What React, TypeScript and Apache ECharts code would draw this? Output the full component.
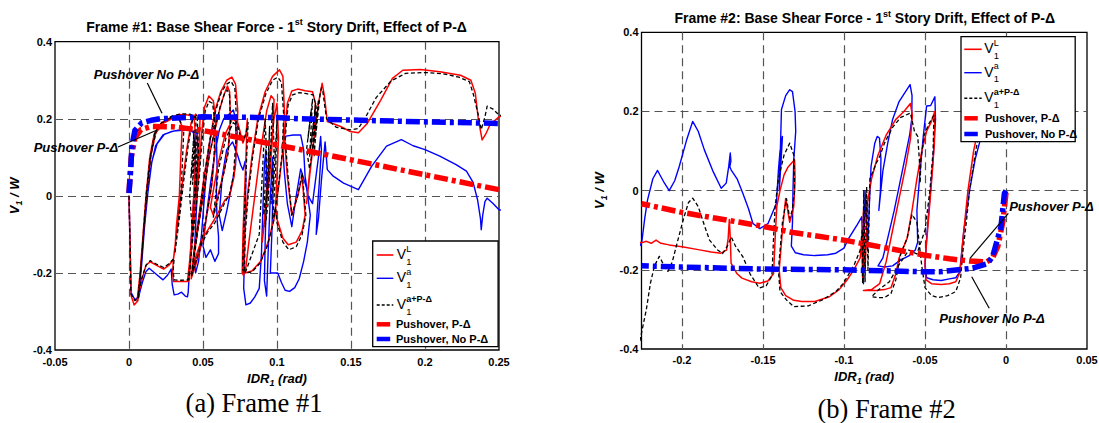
import React, { useEffect, useRef } from 'react';
import * as echarts from 'echarts';

const FONT = '"Liberation Sans", Arial, Helvetica, sans-serif';
const SERIF = '"Liberation Serif", "Times New Roman", serif';
const RED = '#ff0000';
const BLUE = '#0000ff';
const BLACK = '#000000';

// ---------- axes / ticks ----------
const F1_X_RANGE = [-0.05, 0.25];
const F1_X_INTERVAL = 0.05;
const F2_X_RANGE = [-0.225, 0.05];
const F2_X_TICKS = [-0.2, -0.15, -0.1, -0.05, 0, 0.05];
const Y_RANGE = [-0.4, 0.4];
const Y_INTERVAL = 0.2;

// ---------- texts ----------
const TITLES = [
  ['Frame #1: Base Shear Force - 1', 'st', ' Story Drift, Effect of P-Δ'],
  ['Frame #2: Base Shear Force - 1', 'st', ' Story Drift, Effect of P-Δ'],
];
const CAPTIONS = ['(a) Frame #1', '(b) Frame #2'];
const LEGEND_SUP = ['L', 'a', 'a+P-Δ'];
const PUSH_LABELS = ['Pushover, P-Δ', 'Pushover, No P-Δ'];
const NOTE_NO_PD = 'Pushover No P-Δ';
const NOTE_PD = 'Pushover P-Δ';

// ---------- Frame #1 data (IDR1, V1/W) ----------
const F1_VL = [
  [0, 0], [0.0008, -0.14], [0.0015, -0.26], [0.0035, -0.283], [0.006, -0.272],
  [0.0075, -0.2], [0.0095, -0.1], [0.0115, 0.0], [0.014, 0.1], [0.017, 0.16], [0.022, 0.19], [0.028, 0.203], [0.034, 0.211], [0.04, 0.21], [0.044, 0.205],
  [0.045, 0.15], [0.0445, 0.05], [0.043, -0.05], [0.0415, -0.15], [0.0395, -0.222], [0.035, -0.222], [0.03, -0.222], [0.0295, -0.2], [0.03, -0.165],
  [0.027, -0.18], [0.0234, -0.19], [0.019, -0.181], [0.0143, -0.171], [0.0115, -0.18], [0.0085, -0.22], [0.0055, -0.272],
  [0.0078, -0.19], [0.0098, -0.09], [0.012, 0.01], [0.0145, 0.1], [0.018, 0.162], [0.023, 0.188], [0.029, 0.2],
  [0.033, 0.205], [0.036, 0.18], [0.035, 0.1], [0.034, 0.0], [0.032, -0.08], [0.031, -0.14], [0.03, -0.165], [0.033, -0.07], [0.036, 0.03], [0.039, 0.12], [0.042, 0.19], [0.045, 0.212], [0.048, 0.2], [0.047, 0.1], [0.045, 0.0], [0.043, -0.1], [0.041, -0.2], [0.04, -0.222],
  [0.0415, -0.16], [0.044, -0.06], [0.047, 0.05], [0.049, 0.16], [0.051, 0.23], [0.054, 0.259], [0.057, 0.247], [0.0585, 0.2], [0.058, 0.12], [0.056, 0.03], [0.053, -0.04], [0.0505, -0.1], [0.048, -0.14], [0.045, -0.18], [0.042, -0.215],
  [0.044, -0.14], [0.047, -0.06], [0.05, 0.03], [0.054, 0.13], [0.058, 0.22], [0.062, 0.27], [0.066, 0.3], [0.0695, 0.308], [0.072, 0.29], [0.0735, 0.22], [0.073, 0.14], [0.071, 0.05], [0.068, 0.0], [0.065, -0.01], [0.0576, -0.062], [0.053, -0.09], [0.049, -0.114], [0.045, -0.16], [0.042, -0.21],
  [0.046, -0.1], [0.05, 0.0], [0.054, 0.1], [0.058, 0.17], [0.061, 0.22], [0.064, 0.26], [0.0665, 0.285], [0.068, 0.27], [0.0685, 0.2], [0.067, 0.12], [0.064, 0.06], [0.06, 0.0], [0.057, -0.05], [0.055, -0.03],
  [0.06, 0.08], [0.065, 0.16], [0.07, 0.2], [0.0735, 0.19], [0.0755, 0.16], [0.077, 0.137], [0.079, 0.16], [0.08, 0.2], [0.079, 0.1], [0.078, 0.0], [0.077, -0.1], [0.0765, -0.2], [0.0775, -0.207],
  [0.078, -0.1], [0.08, 0.0], [0.083, 0.1], [0.087, 0.2], [0.092, 0.27], [0.097, 0.31], [0.1017, 0.327], [0.104, 0.31], [0.105, 0.22], [0.104, 0.12], [0.101, 0.02], [0.098, -0.06], [0.094, -0.12], [0.089, -0.17], [0.083, -0.195], [0.0785, -0.2],
  [0.081, -0.12], [0.085, 0.0], [0.089, 0.12], [0.093, 0.22], [0.096, 0.26], [0.098, 0.25], [0.097, 0.15], [0.095, 0.05], [0.092, -0.05], [0.09, -0.12], [0.092, -0.04], [0.095, 0.1], [0.098, 0.2], [0.1, 0.24], [0.101, 0.15], [0.1, 0.05], [0.099, -0.03],
  [0.1, -0.06], [0.104, -0.11], [0.1076, -0.127], [0.113, -0.12], [0.117, -0.09], [0.119, -0.05], [0.117, 0.05], [0.114, 0.0], [0.11, -0.05], [0.107, 0.05], [0.105, 0.15], [0.107, 0.24], [0.11, 0.272], [0.114, 0.277], [0.119, 0.273], [0.124, 0.27], [0.126, 0.24], [0.125, 0.15], [0.122, 0.06], [0.12, -0.02], [0.122, 0.05], [0.125, 0.15], [0.128, 0.24], [0.1305, 0.292], [0.132, 0.26], [0.134, 0.193],
  [0.143, 0.18], [0.1495, 0.167], [0.155, 0.164], [0.161, 0.188], [0.17, 0.248], [0.178, 0.305], [0.185, 0.326], [0.197, 0.328], [0.21, 0.322], [0.224, 0.313], [0.231, 0.3], [0.234, 0.266], [0.236, 0.2], [0.2386, 0.145], [0.241, 0.16], [0.244, 0.185], [0.25, 0.205], [0.255, 0.21],
];

const F1_VA = [
  [0, 0], [0.0008, -0.14], [0.0013, -0.25], [0.004, -0.27], [0.0065, -0.262],
  [0.008, -0.19], [0.0102, -0.09], [0.0125, 0.0], [0.015, 0.08], [0.018, 0.13], [0.023, 0.158], [0.029, 0.167], [0.035, 0.172], [0.04, 0.172], [0.0435, 0.165],
  [0.045, 0.12], [0.0445, 0.04], [0.043, -0.05], [0.0415, -0.15], [0.04, -0.25], [0.0395, -0.262], [0.038, -0.26], [0.0355, -0.25], [0.033, -0.255], [0.0305, -0.257], [0.0292, -0.23], [0.0285, -0.19], [0.026, -0.206], [0.023, -0.218], [0.018, -0.202], [0.0136, -0.188], [0.0115, -0.196], [0.009, -0.225], [0.0065, -0.262],
  [0.0085, -0.18], [0.0105, -0.08], [0.0128, 0.01], [0.0155, 0.09], [0.019, 0.135], [0.024, 0.16], [0.03, 0.168], [0.036, 0.17], [0.042, 0.17], [0.046, 0.16],
  [0.047, 0.08], [0.046, 0.0], [0.045, -0.08], [0.044, -0.16], [0.045, -0.2], [0.047, -0.17], [0.049, -0.1], [0.051, 0.0], [0.053, 0.09], [0.055, 0.15], [0.057, 0.18], [0.059, 0.16], [0.0595, 0.08], [0.059, 0.0], [0.0595, -0.06], [0.0605, -0.105], [0.0605, -0.15], [0.058, -0.17], [0.055, -0.14], [0.052, -0.16], [0.05, -0.13], [0.052, -0.06], [0.055, 0.03], [0.058, 0.11], [0.061, 0.17], [0.064, 0.2], [0.0675, 0.212], [0.0705, 0.223], [0.072, 0.2], [0.0725, 0.14], [0.072, 0.08], [0.069, 0.02], [0.066, -0.04], [0.063, -0.09], [0.061, -0.05], [0.063, 0.05], [0.066, 0.12], [0.07, 0.14], [0.073, 0.11], [0.0755, 0.08], [0.077, 0.067], [0.0785, 0.09], [0.079, 0.05], [0.0785, -0.05], [0.078, -0.15], [0.0775, -0.24], [0.079, -0.283], [0.082, -0.278], [0.085, -0.262], [0.088, -0.24],
  [0.0895, -0.15], [0.0905, -0.03], [0.0915, 0.08], [0.0925, 0.12], [0.093, 0.02], [0.092, -0.12], [0.0915, -0.22], [0.093, -0.26], [0.094, -0.15], [0.0955, 0.0], [0.097, 0.1], [0.0975, 0.04], [0.0965, -0.1], [0.0955, -0.2], [0.098, -0.2], [0.1005, -0.2], [0.103, -0.225], [0.1055, -0.245], [0.1085, -0.248], [0.112, -0.238], [0.115, -0.215], [0.118, -0.17], [0.1205, -0.12], [0.1225, -0.05],
  [0.12, 0.02], [0.116, 0.07], [0.113, 0.0], [0.11, -0.08], [0.107, -0.02], [0.105, 0.06], [0.104, 0.12], [0.106, 0.155], [0.111, 0.158], [0.116, 0.158], [0.118, 0.12], [0.119, 0.05], [0.121, 0.0], [0.124, -0.02], [0.126, 0.04], [0.128, 0.1], [0.1295, 0.154], [0.13, 0.12], [0.1285, 0.03], [0.127, -0.05], [0.1265, -0.1],
  [0.128, -0.06], [0.13, 0.04], [0.1315, 0.1], [0.1325, 0.14], [0.134, 0.068],
  [0.138, 0.051], [0.145, 0.033], [0.155, 0.016], [0.164, 0.077], [0.174, 0.129], [0.184, 0.146], [0.192, 0.13], [0.2, 0.12], [0.21, 0.103], [0.221, 0.081], [0.228, 0.064], [0.2325, 0.035], [0.2355, -0.01], [0.2375, -0.06], [0.238, -0.088], [0.239, -0.05], [0.2405, -0.015], [0.242, -0.006], [0.246, -0.02], [0.25, -0.036], [0.255, -0.04],
];

const F1_VAPD = [
  [0, 0], [0.0008, -0.14], [0.0013, -0.255], [0.004, -0.272], [0.0065, -0.265],
  [0.008, -0.19], [0.0098, -0.09], [0.0118, 0.01], [0.0143, 0.1], [0.0175, 0.165], [0.023, 0.195], [0.029, 0.207], [0.035, 0.213], [0.041, 0.212], [0.045, 0.205],
  [0.0455, 0.15], [0.045, 0.05], [0.0435, -0.05], [0.042, -0.15], [0.0405, -0.218], [0.035, -0.219], [0.0305, -0.218], [0.0298, -0.195], [0.0305, -0.162],
  [0.027, -0.176], [0.0234, -0.186], [0.019, -0.178], [0.0143, -0.168], [0.0115, -0.18], [0.0085, -0.215], [0.006, -0.265],
  [0.0082, -0.18], [0.0102, -0.08], [0.0125, 0.02], [0.015, 0.11], [0.0185, 0.17], [0.024, 0.195], [0.03, 0.205],
  [0.034, 0.2], [0.037, 0.17], [0.036, 0.08], [0.035, 0.0], [0.033, -0.08], [0.031, -0.15], [0.034, -0.06], [0.037, 0.04], [0.04, 0.13], [0.043, 0.2], [0.046, 0.21], [0.047, 0.12], [0.045, 0.0], [0.046, 0.1], [0.044, 0.15], [0.043, 0.03], [0.045, 0.14], [0.042, 0.05], [0.044, 0.17], [0.041, 0.0], [0.043, -0.1], [0.041, -0.2], [0.04, -0.218],
  [0.0418, -0.16], [0.0445, -0.06], [0.0475, 0.05], [0.0495, 0.15], [0.0515, 0.22], [0.054, 0.245], [0.0565, 0.24], [0.058, 0.19], [0.0575, 0.1], [0.0555, 0.02], [0.0525, -0.05], [0.05, -0.1], [0.0475, -0.14], [0.0445, -0.18], [0.042, -0.21],
  [0.0445, -0.13], [0.0475, -0.05], [0.0505, 0.04], [0.0545, 0.14], [0.0585, 0.22], [0.0625, 0.27], [0.066, 0.29], [0.069, 0.297], [0.0715, 0.28], [0.0725, 0.21], [0.0722, 0.14], [0.0705, 0.05], [0.068, 0.005], [0.0645, -0.02], [0.058, -0.07], [0.053, -0.095], [0.049, -0.125], [0.045, -0.17], [0.0425, -0.205],
  [0.0465, -0.09], [0.0505, 0.01], [0.0545, 0.11], [0.0585, 0.18], [0.0615, 0.23], [0.0645, 0.265], [0.0665, 0.275], [0.068, 0.26], [0.0685, 0.19], [0.067, 0.11], [0.0635, 0.05], [0.06, -0.01], [0.057, -0.055],
  [0.0605, 0.07], [0.0655, 0.15], [0.0705, 0.19], [0.0735, 0.18], [0.0755, 0.15], [0.0772, 0.142], [0.0792, 0.165], [0.0805, 0.19], [0.0795, 0.1], [0.0785, 0.0], [0.0775, -0.1], [0.0768, -0.19], [0.078, -0.2],
  [0.0785, -0.1], [0.0805, 0.0], [0.0835, 0.1], [0.0875, 0.2], [0.0925, 0.265], [0.097, 0.3], [0.1005, 0.308], [0.103, 0.295], [0.1045, 0.21], [0.1035, 0.11], [0.1005, 0.01], [0.0975, -0.07], [0.0935, -0.13], [0.0885, -0.175], [0.083, -0.198], [0.0785, -0.2],
  [0.088, -0.1], [0.09, 0.05], [0.092, 0.2], [0.093, 0.1], [0.091, -0.05], [0.093, 0.0], [0.095, 0.18], [0.094, 0.05], [0.092, -0.08], [0.094, -0.02], [0.096, 0.15], [0.097, 0.24], [0.098, 0.12], [0.096, -0.02], [0.098, 0.05], [0.1, 0.2], [0.099, 0.05], [0.097, -0.06], [0.099, -0.03],
  [0.1, -0.07], [0.104, -0.12], [0.108, -0.14], [0.113, -0.132], [0.117, -0.1], [0.1195, -0.05], [0.117, 0.06], [0.114, 0.0], [0.11, -0.05], [0.1075, 0.05], [0.1055, 0.15], [0.1075, 0.235], [0.1105, 0.262], [0.115, 0.268], [0.12, 0.265], [0.1245, 0.262], [0.1265, 0.23],
  [0.125, 0.14], [0.122, 0.07], [0.12, 0.12], [0.123, 0.22], [0.121, 0.15], [0.124, 0.25], [0.122, 0.1], [0.125, 0.2], [0.123, 0.13], [0.126, 0.24], [0.124, 0.12], [0.127, 0.22], [0.125, 0.1], [0.128, 0.25], [0.126, 0.15], [0.129, 0.26], [0.13, 0.28], [0.131, 0.27], [0.132, 0.24], [0.1335, 0.2],
  [0.14, 0.178], [0.15, 0.171], [0.155, 0.175], [0.16, 0.205], [0.167, 0.255], [0.177, 0.298], [0.187, 0.318], [0.2, 0.32], [0.212, 0.317], [0.223, 0.308], [0.23, 0.296], [0.2325, 0.266], [0.236, 0.21], [0.238, 0.172], [0.2405, 0.205], [0.242, 0.233], [0.246, 0.225], [0.25, 0.21], [0.255, 0.205],
];

const F1_PUSH_PD = [
  [0, 0.008], [0.0015, 0.1], [0.004, 0.15], [0.008, 0.172], [0.015, 0.18], [0.03, 0.179], [0.048, 0.171], [0.1225, 0.115], [0.2336, 0.0285], [0.25, 0.016],
];
const F1_PUSH_NOPD = [
  [0, 0.007], [0.001, 0.06], [0.002, 0.13], [0.004, 0.17], [0.0085, 0.189], [0.015, 0.196], [0.021, 0.2], [0.05, 0.205], [0.1, 0.203], [0.116, 0.2], [0.2, 0.192], [0.25, 0.188],
];

// ---------- Frame #2 data ----------
const F2_VL = [
  [-0.226, -0.13], [-0.225, -0.132], [-0.222, -0.128], [-0.219, -0.133], [-0.216, -0.125], [-0.213, -0.133], [-0.208, -0.137], [-0.2, -0.142], [-0.19, -0.149], [-0.182, -0.155], [-0.176, -0.158], [-0.1725, -0.15], [-0.1715, -0.12], [-0.1708, -0.073], [-0.1702, -0.12], [-0.1697, -0.183], [-0.166, -0.21], [-0.163, -0.221], [-0.157, -0.23], [-0.152, -0.234], [-0.147, -0.228], [-0.1435, -0.21],
  [-0.1425, -0.12], [-0.1415, -0.04], [-0.1395, 0.0], [-0.137, 0.04], [-0.1345, 0.06], [-0.1305, 0.078], [-0.1302, 0.03], [-0.131, -0.04], [-0.1335, -0.08], [-0.136, -0.02], [-0.138, -0.1], [-0.14, -0.2], [-0.139, -0.245], [-0.136, -0.265], [-0.131, -0.277], [-0.126, -0.28], [-0.118, -0.28], [-0.109, -0.268], [-0.103, -0.25], [-0.098, -0.225], [-0.094, -0.2], [-0.09, -0.17], [-0.089, -0.12],
  [-0.0885, -0.22], [-0.088, -0.05], [-0.087, -0.2], [-0.0855, -0.03], [-0.083, 0.03], [-0.079, 0.09], [-0.074, 0.14], [-0.068, 0.18], [-0.063, 0.2], [-0.059, 0.22], [-0.0578, 0.19], [-0.059, 0.13], [-0.062, 0.06], [-0.066, -0.02], [-0.07, -0.1], [-0.074, -0.18], [-0.078, -0.235], [-0.083, -0.25], [-0.088, -0.252], [-0.08, -0.252], [-0.075, -0.25], [-0.071, -0.245], [-0.068, -0.21], [-0.066, -0.17], [-0.064, -0.15], [-0.061, -0.12], [-0.058, -0.05], [-0.055, 0.03], [-0.052, 0.1], [-0.049, 0.15], [-0.046, 0.175], [-0.044, 0.2], [-0.0442, 0.12], [-0.046, 0.02], [-0.048, -0.08], [-0.05, -0.18], [-0.0495, -0.225], [-0.046, -0.235], [-0.04, -0.237], [-0.035, -0.235], [-0.031, -0.23], [-0.0283, -0.205], [-0.0265, -0.12], [-0.0235, 0.0], [-0.02, 0.1], [-0.017, 0.16], [-0.014, 0.22],
];

const F2_VA = [
  [-0.226, -0.14], [-0.2248, -0.129], [-0.223, -0.07], [-0.2213, -0.024], [-0.218, 0.03], [-0.2151, 0.051], [-0.211, 0.02], [-0.2079, 0.0], [-0.2045, 0.025], [-0.2017, 0.061], [-0.197, 0.13], [-0.1934, 0.175], [-0.19, 0.15], [-0.1862, 0.103], [-0.181, 0.05], [-0.1758, 0.006], [-0.1727, 0.019], [-0.1712, 0.06], [-0.1702, 0.095], [-0.1698, 0.075], [-0.1705, 0.06], [-0.1696, 0.052], [-0.166, 0.03], [-0.1624, -0.007], [-0.159, -0.045], [-0.1562, -0.083], [-0.152, -0.096], [-0.1469, -0.083], [-0.1417, -0.032],
  [-0.1405, 0.05], [-0.1395, 0.1], [-0.138, 0.137], [-0.1385, 0.1], [-0.1395, 0.03], [-0.14, 0.0], [-0.1393, 0.1], [-0.1386, 0.205], [-0.136, 0.24], [-0.1335, 0.255], [-0.1318, 0.25], [-0.1302, 0.2], [-0.1298, 0.15], [-0.131, 0.078], [-0.1315, 0.0], [-0.1318, -0.08], [-0.1325, -0.14], [-0.13, -0.157], [-0.125, -0.162], [-0.118, -0.164], [-0.11, -0.162], [-0.105, -0.158], [-0.1, -0.145], [-0.097, -0.12], [-0.092, -0.087], [-0.089, -0.066],
  [-0.0885, -0.15], [-0.088, -0.235], [-0.0875, -0.1], [-0.087, 0.0], [-0.0855, -0.15], [-0.0845, -0.05], [-0.0833, 0.061], [-0.081, 0.12], [-0.0795, 0.137], [-0.0781, 0.133], [-0.0772, 0.08], [-0.0775, 0.0], [-0.0785, -0.05], [-0.076, 0.05], [-0.073, 0.12], [-0.07, 0.18], [-0.066, 0.225], [-0.062, 0.25], [-0.0592, 0.268], [-0.058, 0.24], [-0.0582, 0.18], [-0.0595, 0.14], [-0.062, 0.09], [-0.065, 0.03], [-0.069, -0.05], [-0.073, -0.12], [-0.076, -0.17], [-0.079, -0.19], [-0.075, -0.193], [-0.07, -0.19], [-0.065, -0.175], [-0.06, -0.165], [-0.056, -0.15], [-0.0545, -0.13],
  [-0.055, -0.05], [-0.053, 0.05], [-0.051, 0.14], [-0.049, 0.214], [-0.0465, 0.215], [-0.0439, 0.237], [-0.0435, 0.18], [-0.045, 0.08], [-0.047, -0.02], [-0.049, -0.12], [-0.05, -0.19], [-0.049, -0.22], [-0.045, -0.225], [-0.04, -0.227], [-0.035, -0.223], [-0.031, -0.22], [-0.0286, -0.206], [-0.026, -0.1], [-0.0225, 0.0], [-0.019, 0.08], [-0.0164, 0.12], [-0.013, 0.2], [-0.011, 0.25],
];

const F2_VAPD = [
  [-0.226, -0.38], [-0.225, -0.36], [-0.222, -0.3], [-0.2195, -0.234], [-0.217, -0.19], [-0.214, -0.166], [-0.211, -0.19], [-0.2087, -0.204], [-0.206, -0.18], [-0.203, -0.132], [-0.199, -0.07], [-0.196, -0.03], [-0.1934, -0.019], [-0.19, -0.04], [-0.186, -0.09], [-0.183, -0.125], [-0.178, -0.15], [-0.175, -0.159], [-0.172, -0.14], [-0.1696, -0.117], [-0.167, -0.14], [-0.1624, -0.167], [-0.158, -0.21], [-0.1524, -0.246], [-0.148, -0.24], [-0.1445, -0.215],
  [-0.1435, -0.12], [-0.1425, -0.04], [-0.1405, 0.03], [-0.137, 0.09], [-0.1335, 0.12], [-0.131, 0.09], [-0.1305, 0.0], [-0.132, -0.05], [-0.1335, -0.07], [-0.1355, -0.02], [-0.138, -0.08], [-0.1405, -0.2], [-0.1395, -0.255], [-0.1355, -0.276], [-0.131, -0.293], [-0.122, -0.291], [-0.1134, -0.276], [-0.105, -0.255], [-0.1004, -0.234], [-0.094, -0.19], [-0.09, -0.15], [-0.0888, -0.1],
  [-0.0885, -0.235], [-0.0878, 0.0], [-0.087, -0.23], [-0.086, 0.01], [-0.0852, -0.2], [-0.084, 0.03], [-0.08, 0.07], [-0.078, 0.086], [-0.075, 0.12], [-0.07, 0.16], [-0.065, 0.185], [-0.059, 0.196], [-0.0565, 0.15], [-0.0545, 0.137], [-0.0535, 0.08], [-0.053, 0.019], [-0.0525, 0.08], [-0.0505, 0.14], [-0.0475, 0.17], [-0.0445, 0.19], [-0.045, 0.1], [-0.047, 0.0], [-0.05, -0.1], [-0.055, -0.16], [-0.06, -0.15], [-0.066, -0.187], [-0.072, -0.23], [-0.0788, -0.251], [-0.083, -0.268], [-0.079, -0.27], [-0.075, -0.27], [-0.071, -0.26], [-0.068, -0.225], [-0.065, -0.16], [-0.061, -0.12], [-0.058, -0.06], [-0.055, -0.08], [-0.052, -0.19], [-0.05, -0.245], [-0.046, -0.265], [-0.042, -0.27], [-0.036, -0.265], [-0.031, -0.255], [-0.028, -0.22], [-0.0265, -0.15], [-0.0245, -0.08], [-0.0225, 0.0], [-0.0195, 0.08], [-0.0165, 0.15], [-0.0135, 0.22],
];

const F2_PUSH_PD = [
  [0, -0.005], [-0.002, -0.08], [-0.005, -0.14], [-0.0085, -0.172], [-0.012, -0.18], [-0.0224, -0.178], [-0.035, -0.172], [-0.05, -0.163], [-0.1, -0.125], [-0.1327, -0.105], [-0.15, -0.09], [-0.2, -0.055], [-0.225, -0.033],
];
const F2_PUSH_NOPD = [
  [0, 0.0], [-0.001, -0.007], [-0.0031, -0.091], [-0.0083, -0.167], [-0.0114, -0.184], [-0.0206, -0.196], [-0.041, -0.205], [-0.05, -0.205], [-0.1, -0.2], [-0.15, -0.198], [-0.2, -0.193], [-0.225, -0.19],
];

// ---------- helpers ----------
const labelStyle = { color: '#000', fontSize: 11, fontWeight: 'bold', fontFamily: FONT, lineHeight: 11 };
const gridLine = { color: '#555', width: 1.2, type: [8, 5] };

const nameRich = {
  n: { fontSize: 13, fontWeight: 'bold', fontStyle: 'italic', fontFamily: FONT, color: '#000', lineHeight: 18 },
  s: { fontSize: 9, fontWeight: 'bold', fontStyle: 'italic', fontFamily: FONT, color: '#000', lineHeight: 10, verticalAlign: 'bottom' },
};

function txt(x: number, y: number, text: string, o: any = {}) {
  return {
    type: 'text', z: 102, silent: true, x, y,
    style: { text, fill: '#000', fontFamily: FONT, fontSize: 11, align: 'left', verticalAlign: 'middle', textAlign: 'left', textVerticalAlign: 'middle', ...o },
  };
}
function seg(x1: number, y1: number, x2: number, y2: number, style: any) {
  return { type: 'line', z: 101, silent: true, shape: { x1, y1, x2, y2 }, style };
}

function legendEls(bx: number, by: number, w: number, h: number, ys: number[], lx1: number, lx2: number, vx: number, px: number) {
  const els: any[] = [
    { type: 'rect', z: 100, silent: true, shape: { x: bx, y: by, width: w, height: h }, style: { fill: '#fff', stroke: '#000', lineWidth: 1.3 } },
  ];
  const lineStyles = [
    { stroke: RED, lineWidth: 1.6 },
    { stroke: BLUE, lineWidth: 1.4 },
    { stroke: BLACK, lineWidth: 1.4, lineDash: [3, 2] },
  ];
  for (let i = 0; i < 3; i++) {
    const y = by + ys[i];
    els.push(seg(bx + lx1, y, bx + lx2, y, lineStyles[i]));
    els.push(txt(bx + vx, y - 1, 'V', { fontSize: 14 }));
    els.push(txt(bx + vx + 9.5, y - 6.5, LEGEND_SUP[i], { fontSize: 9, fontWeight: i === 2 ? 'bold' : 'normal' }));
    els.push(txt(bx + vx + 9.5, y + 6, '1', { fontSize: 9.5 }));
  }
  const pushColors = [RED, BLUE];
  for (let i = 0; i < 2; i++) {
    const y = by + ys[3 + i];
    els.push(seg(bx + lx1, y, bx + lx1 + 13.5, y, { stroke: pushColors[i], lineWidth: 4.5 }));
    els.push(txt(bx + px, y, PUSH_LABELS[i], { fontWeight: 'bold' }));
  }
  return els;
}

function titleEl(cx: number, cy: number, parts: string[]) {
  return {
    type: 'text', z: 102, silent: true, x: cx, y: cy,
    style: {
      text: `{m|${parts[0]}}{s|${parts[1]}}{m|${parts[2]}}`,
      align: 'center', verticalAlign: 'middle', textAlign: 'center', textVerticalAlign: 'middle',
      rich: {
        m: { fontSize: 14, fontWeight: 'bold', fontFamily: FONT, fill: '#000', lineHeight: 18 },
        s: { fontSize: 9, fontWeight: 'bold', fontFamily: FONT, fill: '#000', lineHeight: 10, verticalAlign: 'top' },
      },
    },
  };
}

function curve(data: number[][], idx: number, color: string, width: number, type: any, z: number) {
  return {
    type: 'line', data, xAxisIndex: idx, yAxisIndex: idx, showSymbol: false, symbol: 'none', silent: true,
    clip: true, z, lineStyle: { color, width, type, cap: 'butt', join: 'round' },
  };
}

function buildOption() {
  const dashDot = [14, 4, 4, 4];
  return {
    animation: false,
    backgroundColor: '#fff',
    textStyle: { fontFamily: FONT },
    grid: [
      { left: 55, top: 41.7, width: 444, height: 308.3, show: true, borderColor: '#000', borderWidth: 1.3, backgroundColor: 'transparent', containLabel: false, outerBoundsMode: 'none' },
      { left: 641.5, top: 32.3, width: 445.5, height: 316.7, show: true, borderColor: '#000', borderWidth: 1.3, backgroundColor: 'transparent', containLabel: false, outerBoundsMode: 'none' },
    ],
    xAxis: [
      {
        type: 'value', gridIndex: 0, min: F1_X_RANGE[0], max: F1_X_RANGE[1], interval: F1_X_INTERVAL,
        axisLine: { show: false }, axisTick: { show: false },
        axisLabel: { ...labelStyle, margin: 6, showMinLabel: true, showMaxLabel: true },
        splitLine: { show: true, showMinLine: false, showMaxLine: false, lineStyle: gridLine },
        name: '{n|IDR}{s|1}{n| (rad)}', nameLocation: 'middle', nameGap: 14, nameTextStyle: { rich: nameRich },
      },
      {
        type: 'value', gridIndex: 1, min: F2_X_RANGE[0], max: F2_X_RANGE[1],
        axisLine: { show: false }, axisTick: { show: false, customValues: F2_X_TICKS },
        axisLabel: { ...labelStyle, margin: 5, customValues: F2_X_TICKS, showMinLabel: true, showMaxLabel: true },
        splitLine: { show: true, showMinLine: true, showMaxLine: false, lineStyle: gridLine },
        name: '{n|IDR}{s|1}{n| (rad)}', nameLocation: 'middle', nameGap: 14, nameTextStyle: { rich: nameRich },
      },
    ],
    yAxis: [0, 1].map((i) => ({
      type: 'value', gridIndex: i, min: Y_RANGE[0], max: Y_RANGE[1], interval: Y_INTERVAL,
      axisLine: { show: false }, axisTick: { show: false },
      axisLabel: { ...labelStyle, margin: 3, showMinLabel: true, showMaxLabel: true },
      splitLine: { show: true, showMinLine: false, showMaxLine: false, lineStyle: gridLine },
      name: '{n|V}{s|1}{n| / W}', nameLocation: 'middle', nameGap: i === 0 ? 32 : 33, nameRotate: 90, nameTextStyle: { rich: nameRich },
    })),
    series: [
      curve(F1_VA, 0, BLUE, 1.4, 'solid', 2),
      curve(F1_VL, 0, RED, 1.5, 'solid', 3),
      curve(F1_VAPD, 0, BLACK, 1.3, [4, 2.5], 4),
      curve(F1_PUSH_PD, 0, RED, 5.5, dashDot, 6),
      curve(F1_PUSH_NOPD, 0, BLUE, 5.5, dashDot, 7),
      curve(F2_VA, 1, BLUE, 1.4, 'solid', 2),
      curve(F2_VL, 1, RED, 1.5, 'solid', 3),
      curve(F2_VAPD, 1, BLACK, 1.3, [4, 2.5], 4),
      curve(F2_PUSH_PD, 1, RED, 5.5, dashDot, 6),
      curve(F2_PUSH_NOPD, 1, BLUE, 5.5, dashDot, 7),
    ],
    graphic: {
      elements: [
        titleEl(276.6, 26.7, TITLES[0]),
        titleEl(864.7, 18.3, TITLES[1]),
        txt(254, 403, CAPTIONS[0], { fontFamily: SERIF, fontSize: 26.5, align: 'center', textAlign: 'center' }),
        txt(886.6, 409, CAPTIONS[1], { fontFamily: SERIF, fontSize: 26.5, align: 'center', textAlign: 'center' }),
        // annotations frame 1
        txt(146.5, 74, NOTE_NO_PD, { fontSize: 13, fontWeight: 'bold', fontStyle: 'italic', align: 'center', textAlign: 'center' }),
        seg(147.3, 83, 162, 113.3, { stroke: '#000', lineWidth: 1.2 }),
        txt(76, 147.5, NOTE_PD, { fontSize: 13, fontWeight: 'bold', fontStyle: 'italic', align: 'center', textAlign: 'center' }),
        seg(118, 147, 156, 130.5, { stroke: '#000', lineWidth: 1.2 }),
        // annotations frame 2
        txt(1051.5, 206.7, NOTE_PD, { fontSize: 13, fontWeight: 'bold', fontStyle: 'italic', align: 'center', textAlign: 'center' }),
        seg(1008.3, 213.3, 970, 258.3, { stroke: '#000', lineWidth: 1.2 }),
        txt(992, 318.3, NOTE_NO_PD, { fontSize: 13, fontWeight: 'bold', fontStyle: 'italic', align: 'center', textAlign: 'center' }),
        seg(971.7, 276.7, 989.2, 308.3, { stroke: '#000', lineWidth: 1.2 }),
        ...legendEls(372.7, 241, 125.4, 105.7, [14, 37.3, 64, 83.3, 98], 4, 20.6, 24, 23.3),
        ...legendEls(961, 36.7, 114.2, 105, [12.6, 36, 61.6, 81.6, 97.3], 3.3, 20.7, 23.3, 24),
      ],
    },
  };
}

export default function App() {
  const ref = useRef<HTMLDivElement>(null);
  useEffect(() => {
    if (!ref.current) return;
    const chart = echarts.init(ref.current, null, { renderer: 'svg' });
    chart.setOption(buildOption() as any);
    return () => chart.dispose();
  }, []);
  return (
    <div
      ref={ref}
      style={{ position: 'absolute', left: 0, top: 0, width: 1099, height: 423, background: '#fff' }}
    />
  );
}
